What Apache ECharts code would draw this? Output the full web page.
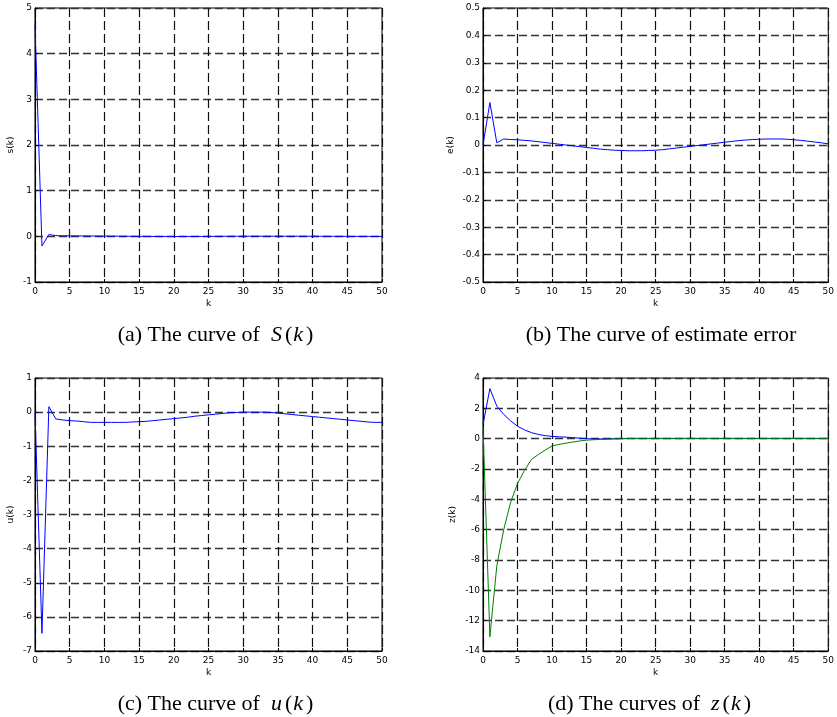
<!DOCTYPE html>
<html>
<head>
<meta charset="utf-8">
<script src="https://cdn.jsdelivr.net/npm/echarts@6/dist/echarts.min.js"></script>
<style>
  html, body { margin: 0; padding: 0; background: #fff; }
  #chart { width: 837px; height: 717px; }
</style>
</head>
<body>
<div id="chart"></div>
<script>
// Sample index k
const K = [0,1,2,3,4,5,6,7,8,9,10,11,12,13,14,15,16,17,18,19,20,21,22,23,24,25,
           26,27,28,29,30,31,32,33,34,35,36,37,38,39,40,41,42,43,44,45,46,47,48,49,50];

// (a) sliding variable s(k)
const sVals = [4.63,-0.21,0.04,0.015,0.012,0.01,0.009,0.008,0.007,0.006,0.005,0.004,0.003,0.002,0.001,0.0,
               -0.001,-0.002,-0.002,-0.003,-0.003,-0.003,-0.003,-0.002,-0.002,-0.001,0.0,0.001,0.001,0.002,
               0.002,0.003,0.003,0.003,0.003,0.003,0.003,0.003,0.002,0.002,0.002,0.001,0.001,0.0,0.0,
               -0.001,-0.001,-0.001,-0.001,-0.001,-0.001];

// (b) estimate error e(k)
const eVals = [0,0.155,0.008,0.022,0.020,0.019,0.017,0.015,0.012,0.009,0.006,0.003,0.0,-0.003,-0.006,
               -0.009,-0.012,-0.015,-0.017,-0.019,-0.020,-0.021,-0.021,-0.021,-0.020,-0.019,-0.017,-0.014,
               -0.011,-0.008,-0.005,-0.002,0.001,0.004,0.007,0.010,0.013,0.016,0.018,0.020,0.021,0.022,
               0.022,0.022,0.021,0.019,0.017,0.014,0.011,0.008,0.004];

// (c) control input u(k)
const uVals = [0,-6.48,0.16,-0.20,-0.23,-0.25,-0.26,-0.28,-0.30,-0.30,-0.30,-0.30,-0.30,-0.30,-0.29,
               -0.28,-0.27,-0.25,-0.23,-0.21,-0.19,-0.17,-0.15,-0.12,-0.10,-0.08,-0.06,-0.04,-0.02,-0.01,
               0.0,0.0,0.0,0.0,-0.01,-0.03,-0.05,-0.07,-0.09,-0.11,-0.13,-0.15,-0.17,-0.19,-0.21,-0.23,
               -0.25,-0.27,-0.29,-0.30,-0.30];

// (d) state components z(k)
const z1Vals = [0.93,3.3,2.15,1.6,1.17,0.82,0.58,0.40,0.28,0.20,0.15,0.12,0.10,0.07,0.03,0.0,-0.02,
                -0.02,-0.01,0.0,0.01,0.02,0.02,0.02,0.02,0.02,0.02,0.02,0.02,0.02,0.02,0.02,0.02,0.02,
                0.02,0.02,0.02,0.02,0.02,0.02,0.02,0.02,0.02,0.02,0.02,0.02,0.02,0.02,0.02,0.02,0.02];
const z2Vals = [0.77,-13.06,-8.38,-6.0,-4.2,-2.96,-2.1,-1.38,-1.05,-0.75,-0.48,-0.38,-0.30,-0.22,-0.15,
                -0.10,-0.07,-0.05,-0.03,-0.02,-0.01,0,0,0,0,0,0,0,0,0,0,0,0,0,0,0,0,0,0,0,0,0,0,0,0,0,0,0,0,0,0];

// Axis ranges for each panel
const yRanges = [
  { min: -1, max: 5, interval: 1, name: 's(k)', gap: 20 },
  { min: -0.5, max: 0.5, interval: 0.1, name: 'e(k)', gap: 28 },
  { min: -7, max: 1, interval: 1, name: 'u(k)', gap: 20 },
  { min: -14, max: 4, interval: 2, name: 'z(k)', gap: 26 }
];
const xTicks = { min: 0, max: 50, interval: 5 };

// Panel captions; italic symbols set with a little breathing room
const captions = [
  { x: 216, y: 335, parts: ['(a) The curve of  ', '{i|S}', '{r|(}', '{i|k}', '{r|)}'] },
  { x: 661, y: 335, parts: ['(b) The curve of estimate error'] },
  { x: 216, y: 704, parts: ['(c) The curve of  ', '{i|u}', '{r|(}', '{i|k}', '{r|)}'] },
  { x: 650, y: 704, parts: ['(d) The curves of  ', '{i|z}', '{r|(}', '{i|k}', '{r|)}'] }
];

const panels = [
  { left: 35, top: 8, width: 347, height: 274 },
  { left: 483, top: 8, width: 347, height: 274 },
  { left: 35, top: 378, width: 347, height: 273 },
  { left: 483, top: 378, width: 347, height: 273 }
];

const tickFont = { fontFamily: 'DejaVu Sans', fontSize: 9, color: '#000' };
const dashX = { color: '#111', width: 1.2, type: [9, 4] };
const dashY = { color: '#333', width: 1.4, type: [8, 4] };

const pairs = vals => K.map((k, i) => [k, vals[i]]);

const chart = echarts.init(document.getElementById('chart'), null, { renderer: 'canvas' });

const serif = 'Liberation Serif';
const capSize = 22;
const option = {
  animation: false,
  backgroundColor: '#fff',
  grid: panels.map(p => Object.assign({
    show: true, borderColor: '#000', borderWidth: 1, backgroundColor: '#fff', containLabel: false
  }, p)),
  xAxis: panels.map((p, i) => ({
    type: 'value', gridIndex: i,
    min: xTicks.min, max: xTicks.max, interval: xTicks.interval,
    name: 'k', nameLocation: 'middle', nameGap: 17,
    nameTextStyle: { fontFamily: 'DejaVu Sans', fontSize: 9, color: '#000' },
    axisLine: { show: true, onZero: false, lineStyle: { color: '#000', width: 1 } },
    axisTick: { show: true, inside: true, length: 3, lineStyle: { color: '#000' } },
    axisLabel: Object.assign({ margin: 5 }, tickFont),
    splitLine: { show: true, lineStyle: dashX }
  })),
  yAxis: yRanges.map((r, i) => ({
    type: 'value', gridIndex: i,
    min: r.min, max: r.max, interval: r.interval,
    name: r.name, nameLocation: 'middle', nameGap: r.gap, nameRotate: 90,
    nameTextStyle: { fontFamily: 'DejaVu Sans', fontSize: 9, color: '#000' },
    axisLine: { show: true, onZero: false, lineStyle: { color: '#000', width: 1 } },
    axisTick: { show: true, inside: true, length: 3, lineStyle: { color: '#000' } },
    axisLabel: Object.assign({ margin: 3 }, tickFont),
    splitLine: { show: true, lineStyle: dashY }
  })),
  series: [
    { type: 'line', xAxisIndex: 0, yAxisIndex: 0, data: pairs(sVals), color: '#0000ff' },
    { type: 'line', xAxisIndex: 1, yAxisIndex: 1, data: pairs(eVals), color: '#0000ff' },
    { type: 'line', xAxisIndex: 2, yAxisIndex: 2, data: pairs(uVals), color: '#0000ff' },
    { type: 'line', xAxisIndex: 3, yAxisIndex: 3, data: pairs(z1Vals), color: '#0000ff' },
    { type: 'line', xAxisIndex: 3, yAxisIndex: 3, data: pairs(z2Vals), color: '#008000' }
  ].map(s => Object.assign({
    showSymbol: false, symbol: 'none', silent: true,
    lineStyle: { width: 1, color: s.color }, z: 5
  }, s)),
  graphic: captions.map(c => ({
    type: 'text', x: c.x, y: c.y, silent: true,
    style: {
      text: c.parts.join(''),
      fontFamily: serif, fontSize: capSize, fill: '#000',
      align: 'center', verticalAlign: 'middle',
      rich: {
        i: { fontFamily: serif, fontSize: capSize, fontStyle: 'italic', fill: '#000', padding: [0, 2, 0, 0] },
        r: { fontFamily: serif, fontSize: capSize, fill: '#000', padding: [0, 1, 0, 1] }
      }
    }
  }))
};

chart.setOption(option);
</script>
</body>
</html>
